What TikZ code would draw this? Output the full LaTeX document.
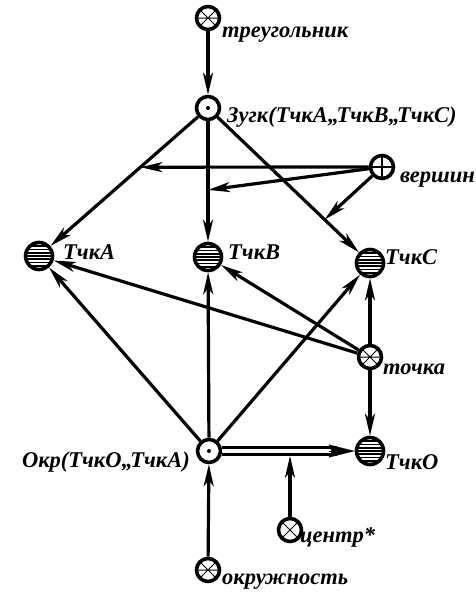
\documentclass[tikz,border=0pt]{standalone}
\usepackage{fontspec}
\setmainfont{Liberation Serif}
\usetikzlibrary{arrows.meta,calc}
\begin{document}
\begin{tikzpicture}[x=1pt,y=-1pt,
 nd/.style={circle, draw, line width=3.6pt, minimum size=23pt, inner sep=0pt, fill=white},
 xnode/.style={nd, path picture={\draw[line width=1pt]
   (path picture bounding box.north west)--(path picture bounding box.south east)
   (path picture bounding box.north east)--(path picture bounding box.south west)
   (path picture bounding box.west)--(path picture bounding box.east);}},
 cnode/.style={nd, path picture={\draw[line width=1pt]
   (path picture bounding box.north west)--(path picture bounding box.south east)
   (path picture bounding box.north east)--(path picture bounding box.south west);}},
 pnode/.style={nd, path picture={\draw[line width=1.2pt]
   (path picture bounding box.north)--(path picture bounding box.south)
   (path picture bounding box.west)--(path picture bounding box.east);}},
 dnode/.style={nd, path picture={\fill[black] (path picture bounding box.center) circle[radius=2pt];}},
 hnode/.style={nd, minimum size=27pt, path picture={\foreach \i in {-5,...,5}
   \draw[line width=1.7pt] ([yshift=\i*3.3pt]path picture bounding box.west) -- ([yshift=\i*3.3pt]path picture bounding box.east);}},
 lbl/.style={font=\fontsize{22.5}{22.5}\selectfont\bfseries\itshape, inner sep=0pt, anchor=west},
 arr/.style={line width=3.2pt, -{Stealth[length=22pt,width=10pt,inset=6pt]}}
]
\useasboundingbox (0,0) rectangle (475,592);
% nodes
\node[xnode] (t) at (208,18) {};
\node[dnode] (z) at (208,108) {};
\node[pnode] (v) at (382,167) {};
\node[hnode] (A) at (39,256) {};
\node[hnode] (B) at (208,257) {};
\node[hnode] (C) at (370,263) {};
\node[xnode] (p) at (370,357) {};
\node[hnode] (O) at (370,451) {};
\node[dnode] (o) at (209,451) {};
\node[cnode] (c) at (290,530) {};
\node[xnode] (k) at (208,570) {};
% labels
\node[lbl] (tl) at (222,35) {треугольник};
\node[lbl] (zl) at (227,117) {Зугк(ТчкА,,ТчкВ,,ТчкС)};
\node[lbl] (vl) at (400,180) {вершин};
\node[lbl] (Al) at (63,252) {ТчкА};
\node[lbl] (Bl) at (228,252) {ТчкВ};
\node[lbl] (Cl) at (385,257) {ТчкС};
\node[lbl] (pl) at (383,369) {точка};
\node[lbl] (Ol) at (385,462) {ТчкО};
\node[lbl, anchor=east] (ol) at (190,462) {Окр(ТчкО,,ТчкА)};
\node[lbl] (cl) at (300,537) {центр*};
\node[lbl] (kl) at (222,582) {окружность};
% helper coordinates
\coordinate (vA) at ($(z)!0.4!(A)$);
\coordinate (vB) at ($(z)!0.55!(B)$);
\coordinate (vC) at ($(z)!0.72!(C)$);
\coordinate (oc) at ($(o)!(c)!(O)$);
\coordinate (Ob) at ($(O.west)+(-18,0)$);
\coordinate (Oa) at ($(O.west)+(-26,0)$);
% connectors
\draw[arr] (t) -- (z);
\draw[arr] (z) -- (A);
\draw[arr] (z) -- (B);
\draw[arr] (z) -- (C);
\draw[arr] (v) -- (vA);
\draw[arr] (v) -- (vB);
\draw[arr] (v) -- (vC);
\draw[arr] (p) -- (A);
\draw[arr] (p) -- (B);
\draw[arr] (p) -- (C);
\draw[arr] (p) -- (O);
\draw[arr] (o) -- (A);
\draw[arr] (o) -- (B);
\draw[arr] (o) -- (C);
\draw[arr] (k) -- (o);
\draw[line width=2.6pt, double distance=4.5pt] (o.east) -- (Ob);
\draw[line width=0.1pt, -{Stealth[length=26pt,width=13pt,inset=3pt]}] (Oa) -- (O.west);
\draw[arr, shorten >=4.8pt] (c) -- (oc);
\end{tikzpicture}
\end{document}
